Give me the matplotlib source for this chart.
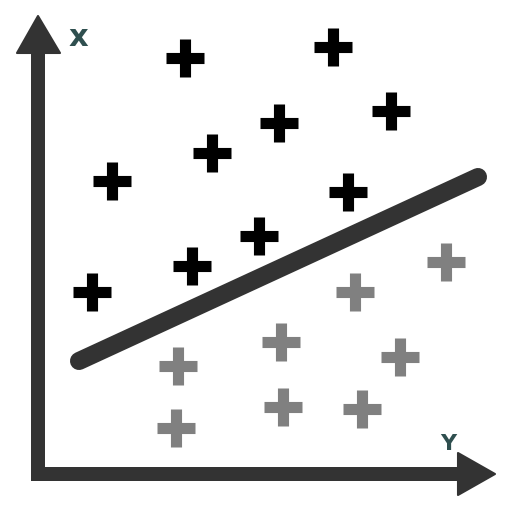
import matplotlib.pyplot as plt
from matplotlib.patches import Rectangle, Polygon

# class above the line (black) - pixel positions
above_x = [185, 333, 279, 391, 212, 112, 348, 259, 192, 92]
above_y = [58, 47, 123, 111, 153, 181, 192, 236, 266, 292]

# class below the line (grey)
below_x = [446, 355, 281, 400, 178, 176, 283, 362]
below_y = [262, 292, 342, 357, 366, 428, 407, 409]

# separating line
line_x = [79, 478]
line_y = [361, 177]

dark = '#333333'

fig = plt.figure(figsize=(5.12, 5.12), dpi=100)
ax = fig.add_axes([0, 0, 1, 1])
ax.set_xlim(0, 512)
ax.set_ylim(512, 0)
ax.axis('off')

# axes with arrow heads
ax.add_patch(Rectangle((31, 50), 14, 431, color=dark, lw=0))
ax.add_patch(Rectangle((31, 467), 429, 14, color=dark, lw=0))
ax.add_patch(Polygon([(17, 53), (60, 53), (38, 16)], closed=True,
                     facecolor=dark, edgecolor=dark, lw=1.5, joinstyle='round'))
ax.add_patch(Polygon([(458, 453), (458, 495), (495, 474)], closed=True,
                     facecolor=dark, edgecolor=dark, lw=1.5, joinstyle='round'))

ax.text(78, 37, 'x', color='#2F4F4F', fontsize=22, fontweight='heavy',
        ha='center', va='center')
ax.text(448, 444, 'Y', color='#2F4F4F', fontsize=16, fontweight='heavy',
        ha='center', va='center')

ax.plot(line_x, line_y, color=dark, lw=13, solid_capstyle='round')

ax.plot(above_x, above_y, ls='none', marker='+', ms=28, mew=8, color='black')
ax.plot(below_x, below_y, ls='none', marker='+', ms=28, mew=8, color='#808080')

fig.savefig('out.png', dpi=100)
